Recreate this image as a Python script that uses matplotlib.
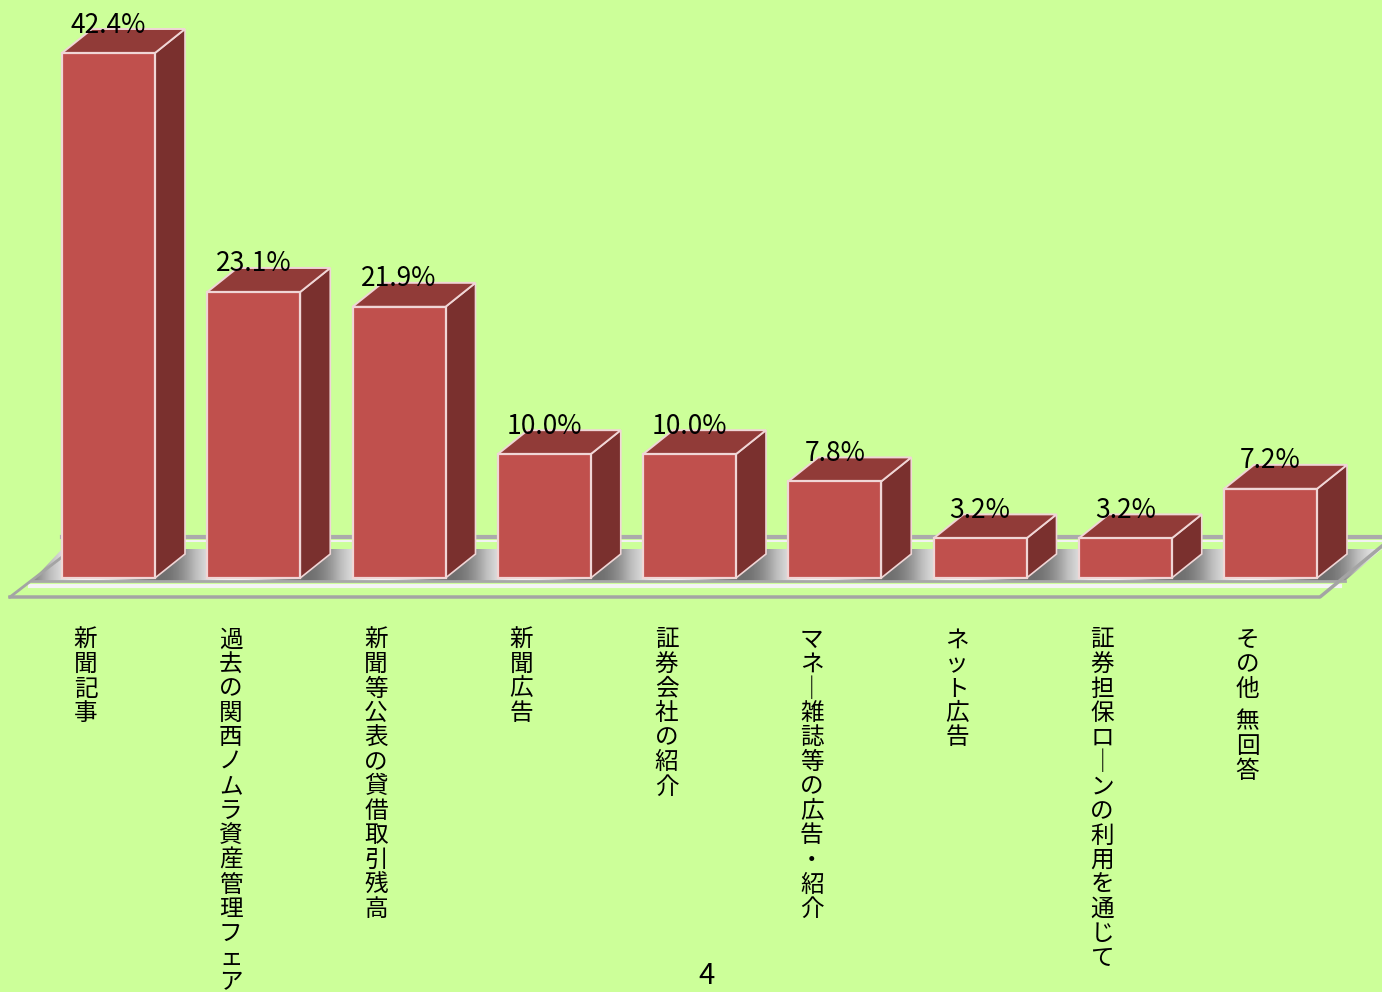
import numpy as np
import matplotlib
matplotlib.use('Agg')
import matplotlib.pyplot as plt
from matplotlib.patches import Polygon, Rectangle

plt.rcParams['font.family'] = ['Noto Sans CJK JP', 'DejaVu Sans']

categories = ['新聞記事', '過去の関西ノムラ資産管理フェア', '新聞等公表の貸借取引残高',
              '新聞広告', '証券会社の紹介', 'マネー雑誌等の広告・紹介',
              'ネット広告', '証券担保ローンの利用を通じて', 'その他 無回答']
values = [42.4, 23.1, 21.9, 10.0, 10.0, 7.8, 3.2, 3.2, 7.2]
page_no = '4'

bg_color = '#CCFF99'
front_color = '#C0504D'
top_color = '#913B38'
side_color = '#7A302E'
edge_color = '#F0D6D6'

W, H = 1382, 992
fig = plt.figure(figsize=(W / 100, H / 100), dpi=100, facecolor=bg_color)

# background layer in pixel units: floor and page number
bg = fig.add_axes([0, 0, 1, 1])
bg.set_xlim(0, W)
bg.set_ylim(H, 0)
bg.axis('off')
bg.set_facecolor(bg_color)

floor = Polygon([(32, 581), (1345, 581), (1382, 549), (62, 549)], closed=True,
                facecolor='none', edgecolor='none')
bg.add_patch(floor)
xs = np.arange(W)
shade = np.cos(2 * np.pi * (xs - 160) / 145.25).reshape(1, -1)
im = bg.imshow(shade, cmap='Greys', vmin=-1.3, vmax=2.3,
               extent=(0, W, 581, 549), aspect='auto', zorder=1)
im.set_clip_path(floor)
bg.plot([62, 1382], [537, 537], color='#ABABAB', lw=3, zorder=1)
bg.plot([62, 1382], [541, 541], color='#F2F2F2', lw=1.5, zorder=1)
bg.plot([32, 1345], [581, 581], color='#A8A8A8', lw=2, zorder=2)
bg.plot([30, 1340], [586, 586], color='#F4F4F4', lw=3, zorder=2)
bg.plot([10, 1320, 1382], [597, 597, 546], color='#A4A4A4', lw=2.5, zorder=2)
bg.plot([10, 62], [597, 557], color='#A4A4A4', lw=2, zorder=2)
bg.text(707, 991, page_no, ha='center', va='bottom', fontsize=21, color='black')

# bar layer: x = category index, y = percent
ax = fig.add_axes([0, 0, 1, 1])
ax.patch.set_alpha(0)
ax.axis('off')
step_px = 145.25
ppu = 12.382
ax.set_xlim(-108.5 / step_px, (W - 108.5) / step_px)
ax.set_ylim(-(H - 578) / ppu, 578 / ppu)

hw = 46.5 / step_px
dx = 30 / step_px
dy = 24 / ppu

for i, v in enumerate(values):
    ax.add_patch(Polygon([(i + hw, 0), (i + hw + dx, dy), (i + hw + dx, v + dy), (i + hw, v)],
                         closed=True, facecolor=side_color, edgecolor=edge_color, lw=1.2, zorder=3))
    ax.add_patch(Polygon([(i - hw, v), (i + hw, v), (i + hw + dx, v + dy), (i - hw + dx, v + dy)],
                         closed=True, facecolor=top_color, edgecolor=edge_color, lw=1.4, zorder=3))
    ax.add_patch(Rectangle((i - hw, 0), 2 * hw, v, facecolor=front_color,
                           edgecolor=edge_color, lw=1.6, zorder=4))
    ax.text(i, v + dy - 3.5 / ppu, f'{v:.1f}%', ha='center', va='baseline',
            fontsize=19, color='black', zorder=5)

# vertical category labels, one glyph per line
char_step = 24.5 / ppu
for i, label in enumerate(categories):
    y = -(640 - 578) / ppu
    for ch in label:
        if ch == ' ':
            y -= char_step * 0.35
            continue
        ax.text(i - 23 / step_px, y, '｜' if ch == 'ー' else ch, ha='center', va='center',
                fontsize=17, color='black', zorder=5)
        y -= char_step

fig.savefig('out.png', dpi=100, facecolor=bg_color)
